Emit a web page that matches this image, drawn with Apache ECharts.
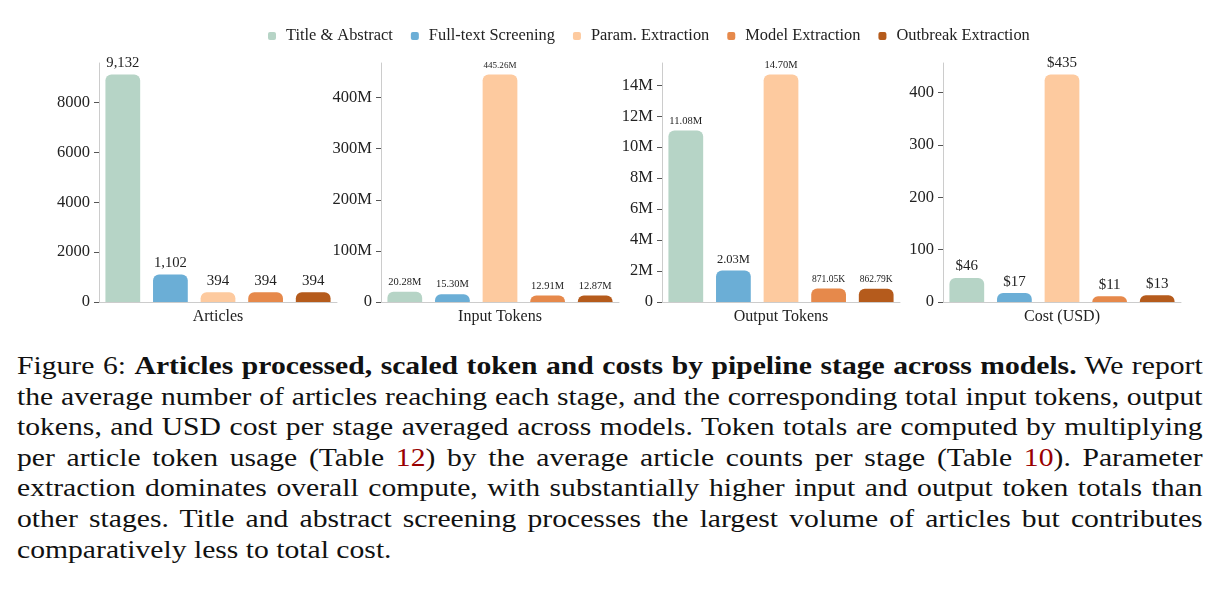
<!DOCTYPE html>
<html lang="en">
<head>
<meta charset="UTF-8">
<title>Pipeline stage costs</title>
<script src="https://cdn.jsdelivr.net/npm/echarts@6/dist/echarts.min.js"></script>
<style>
  body { margin: 0; background: #fff; }
  #main { position: absolute; left: 0; top: 0; width: 1219px; height: 340px; }
  #caption {
    position: absolute; left: 17px; top: 351px; width: 1040px;
    transform: scaleX(1.14); transform-origin: 0 0;
    font-family: "Liberation Serif", "Times New Roman", serif;
    font-size: 26px; line-height: 30.6px; color: #111;
  }
  #caption .ln { text-align: justify; text-align-last: justify; white-space: nowrap; word-spacing: -2px; }
  #caption .ln.last { text-align-last: left; word-spacing: 0; }
  #caption .ref { color: #990000; }
</style>
</head>
<body>
<div id="main"></div>
<div id="caption">
  <div class="ln">Figure 6: <b>Articles processed, scaled token and costs by pipeline stage across models.</b> We report</div>
  <div class="ln">the average number of articles reaching each stage, and the corresponding total input tokens, output</div>
  <div class="ln">tokens, and USD cost per stage averaged across models. Token totals are computed by multiplying</div>
  <div class="ln">per article token usage (Table <span class="ref">12</span>) by the average article counts per stage (Table <span class="ref">10</span>). Parameter</div>
  <div class="ln">extraction dominates overall compute, with substantially higher input and output token totals than</div>
  <div class="ln">other stages. Title and abstract screening processes the largest volume of articles but contributes</div>
  <div class="ln last">comparatively less to total cost.</div>
</div>
<script type="text/javascript">
// data
var stages = ['Title & Abstract', 'Full-text Screening', 'Param. Extraction', 'Model Extraction', 'Outbreak Extraction'];
var panels = ['Articles', 'Input Tokens', 'Output Tokens', 'Cost (USD)'];
var articles = [9132, 1102, 394, 394, 394];
var inputTokens = [20.28e6, 15.30e6, 445.26e6, 12.91e6, 12.87e6];
var outputTokens = [11.08e6, 2.03e6, 14.70e6, 871.05e3, 862.79e3];
var costUsd = [46, 17, 435, 11, 13];
var articleTicks = [0, 2000, 4000, 6000, 8000];
var inputTicks = [0, 100e6, 200e6, 300e6, 400e6];
var outputTicks = [0, 2e6, 4e6, 6e6, 8e6, 10e6, 12e6, 14e6];
var costTicks = [0, 100, 200, 300, 400];

var colors = ['#b6d4c6', '#6baed6', '#fdca9f', '#e6894b', '#b55b1c'];
var FONT = '"Liberation Serif", "Times New Roman", serif';

function fmtCount(v) { return v.toLocaleString('en-US'); }
function fmtTok(v) { return v >= 1e6 ? (v / 1e6).toFixed(2) + 'M' : (v / 1e3).toFixed(2) + 'K'; }
function fmtCost(v) { return '$' + Math.round(v); }
function tickTok(v) { return v === 0 ? '0' : (v / 1e6) + 'M'; }
function tickPlain(v) { return String(v); }

var panelData = [
  { values: articles, ticks: articleTicks, label: fmtCount, tick: tickPlain },
  { values: inputTokens, ticks: inputTicks, label: fmtTok, tick: tickTok },
  { values: outputTokens, ticks: outputTicks, label: fmtTok, tick: tickTok },
  { values: costUsd, ticks: costTicks, label: fmtCost, tick: tickPlain }
];
var gridLeft = [99, 381, 662, 943];

// shrink value labels so they fit over the bar
var cv = document.createElement('canvas').getContext('2d');
function fitSize(txt) {
  cv.font = '16px ' + FONT;
  var w = cv.measureText(txt).width;
  return Math.min(15, 16 * 33 / w);
}

var grids = [], xAxes = [], yAxes = [], series = [];
panelData.forEach(function (p, pi) {
  grids.push({ left: gridLeft[pi], top: 63, width: 238, height: 239, outerBoundsMode: 'none' });
  xAxes.push({
    type: 'category', gridIndex: pi, data: stages,
    axisLabel: { show: false }, axisTick: { show: false },
    axisLine: { lineStyle: { color: '#cccccc' } },
    name: panels[pi], nameLocation: 'middle', nameGap: 7,
    nameTextStyle: { fontFamily: FONT, fontSize: 16, color: '#222', verticalAlign: 'top' }
  });
  yAxes.push({
    type: 'value', gridIndex: pi, min: 0,
    max: function (e) { return e.max * 1.05; },
    splitLine: { show: false },
    axisLine: { show: true, lineStyle: { color: '#cccccc' } },
    axisTick: { show: true, length: 5, customValues: p.ticks, lineStyle: { color: '#555' } },
    axisLabel: { customValues: p.ticks, formatter: p.tick, fontFamily: FONT, fontSize: 16.5, color: '#222', margin: 9 }
  });
  stages.forEach(function (s, si) {
    var txt = p.label(p.values[si]);
    series.push({
      type: 'bar', name: s, xAxisIndex: pi, yAxisIndex: pi, stack: 'p' + pi,
      barWidth: '73%',
      data: p.values.map(function (v, i) { return i === si ? v : '-'; }),
      itemStyle: { color: colors[si], borderRadius: [6, 6, 0, 0] },
      label: {
        show: true, position: 'top', distance: 4,
        formatter: function (d) { return p.label(d.value); },
        fontFamily: FONT, fontSize: fitSize(txt), color: '#222'
      }
    });
  });
});

var chart = echarts.init(document.getElementById('main'));
chart.setOption({
  animation: false,
  legend: {
    data: stages, left: 263, top: 23,
    icon: 'roundRect', itemWidth: 8, itemHeight: 8, itemGap: 18,
    textStyle: { fontFamily: FONT, fontSize: 16.4, color: '#222', padding: [0, 0, 0, 5] }
  },
  grid: grids,
  xAxis: xAxes,
  yAxis: yAxes,
  series: series
});
</script>
</body>
</html>
